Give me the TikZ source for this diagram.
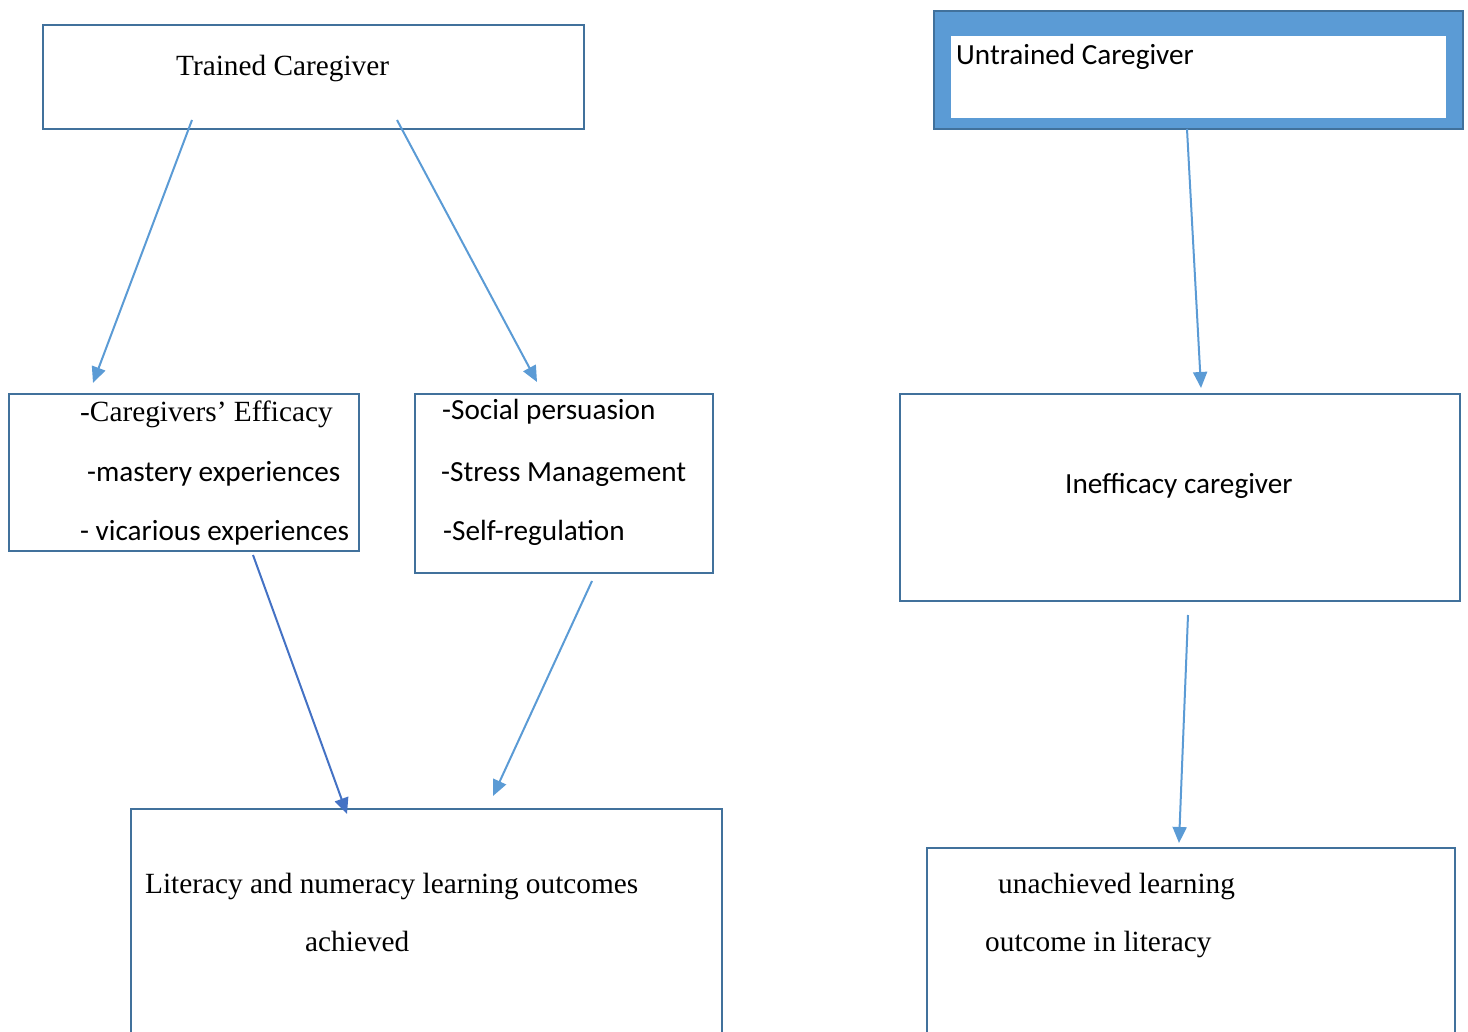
\documentclass[tikz,border=0pt]{standalone}
\usepackage{fontspec}
\setmainfont{Liberation Serif}
\newfontfamily\sansf{Carlito}
\usetikzlibrary{arrows.meta}
\definecolor{boxline}{HTML}{41719C}
\definecolor{lightarr}{HTML}{5B9BD5}
\definecolor{darkarr}{HTML}{4472C4}
\begin{document}
\begin{tikzpicture}[x=1pt,y=-1pt,
  box/.style={draw=boxline,line width=2pt},
  serif/.style={font=\fontsize{29.3}{34}\selectfont,inner sep=0pt,anchor=base west},
  sans/.style={font=\sansf\fontsize{29.2}{34}\selectfont,inner sep=0pt,anchor=base west},
  arr/.style={draw=lightarr,line width=2pt,-{Triangle[length=16pt,width=14pt]}},
  darr/.style={draw=darkarr,line width=2pt,-{Triangle[length=16pt,width=14pt]}}]
\useasboundingbox (0,0) rectangle (1468,1032);
\clip (0,0) rectangle (1468,1032);
% boxes
\draw[box] (43,25) rectangle (584,129);
\filldraw[fill=lightarr,draw=boxline,line width=2pt] (934,11) rectangle (1463,129);
\fill[white] (951,36) rectangle (1446,118);
\draw[box] (9,394) rectangle (359,551);
\draw[box] (415,394) rectangle (713,573);
\draw[box] (900,394) rectangle (1460,601);
\draw[box] (131,809) rectangle (722,1040);
\draw[box] (927,848) rectangle (1455,1040);
% texts
\node[serif] (trained) at (176,76) {Trained Caregiver};
\node[sans] (untrained) at (956,65) {Untrained Caregiver};
\node[serif] (eff1) at (80,421) {-Caregivers’ Efficacy};
\node[sans] (eff2) at (87,481) {-mastery experiences};
\node[sans] (eff3) at (80,540) {- vicarious experiences};
\node[sans] (soc1) at (442,420) {-Social persuasion};
\node[sans] (soc2) at (441,481) {-Stress Management};
\node[sans] (soc3) at (443,540) {-Self-regulation};
\node[sans] (ineff) at (1065,493) {Inefficacy caregiver};
\node[serif] (lit1) at (145,893) {Literacy and numeracy learning outcomes};
\node[serif] (lit2) at (305,951) {achieved};
\node[serif] (un1) at (998,893) {unachieved learning};
\node[serif] (un2) at (985,951) {outcome in literacy};
% connector ends
\coordinate (a1s) at (192,120); \coordinate (a1e) at (93,383);
\coordinate (a2s) at (397,120); \coordinate (a2e) at (537,382);
\coordinate (a3s) at (1187,129); \coordinate (a3e) at (1201,388);
\coordinate (a4s) at (253,555); \coordinate (a4e) at (347,814);
\coordinate (a5s) at (592,581); \coordinate (a5e) at (493,796);
\coordinate (a6s) at (1188,615); \coordinate (a6e) at (1179,843);
\draw[arr] (a1s) -- (a1e);
\draw[arr] (a2s) -- (a2e);
\draw[arr] (a3s) -- (a3e);
\draw[darr] (a4s) -- (a4e);
\draw[arr] (a5s) -- (a5e);
\draw[arr] (a6s) -- (a6e);
\end{tikzpicture}
\end{document}
